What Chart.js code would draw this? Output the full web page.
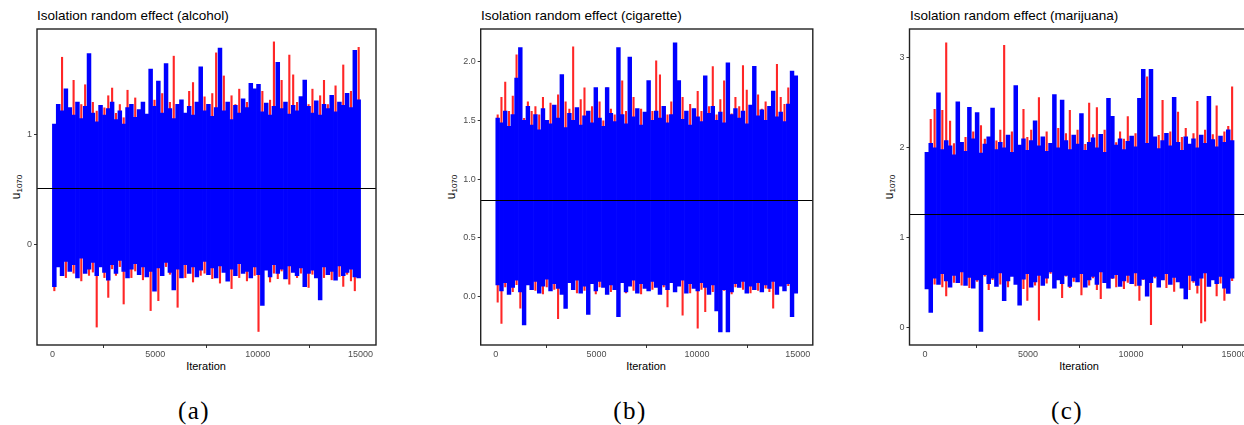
<!DOCTYPE html>
<html>
<head>
<meta charset="utf-8">
<script src="https://cdn.jsdelivr.net/npm/chart.js@4.4.1/dist/chart.umd.min.js"></script>
<style>
  html, body { margin: 0; padding: 0; background: #fff; overflow: hidden; }
  body { width: 1244px; height: 425px; position: relative; font-family: "Liberation Sans", Arial, sans-serif; }
  canvas { position: absolute; top: 20px; }
  .title { position: absolute; top: 9px; font-size: 13.5px; line-height: 1; color: #000; white-space: nowrap; }
  .xlab { position: absolute; top: 361px; font-size: 11px; line-height: 1; transform: translateX(-50%); white-space: nowrap; }
  .ylab { position: absolute; top: 187px; font-size: 12px; line-height: 1; transform: translate(-50%, -50%) rotate(-90deg); white-space: nowrap; }
  .ylab sub { font-size: 8px; vertical-align: -2px; }
  .cap { position: absolute; top: 398px; font-family: "Liberation Serif", serif; font-size: 25px; line-height: 1; letter-spacing: 1.5px; transform: translateX(-50%); }
</style>
</head>
<body>
<div class="title" style="left:37px">Isolation random effect (alcohol)</div>
<div class="title" style="left:481px">Isolation random effect (cigarette)</div>
<div class="title" style="left:910px">Isolation random effect (marijuana)</div>
<div class="ylab" style="left:17px">u<sub>1070</sub></div>
<div class="ylab" style="left:452px">u<sub>1070</sub></div>
<div class="ylab" style="left:890px">u<sub>1070</sub></div>
<canvas id="chartA" width="380" height="340" style="left:0px"></canvas>
<canvas id="chartB" width="380" height="340" style="left:440px"></canvas>
<canvas id="chartC" width="385" height="340" style="left:870px"></canvas>
<div class="xlab" style="left:206px">Iteration</div>
<div class="xlab" style="left:646px">Iteration</div>
<div class="xlab" style="left:1079px">Iteration</div>
<div class="cap" style="left:194px">(a)</div>
<div class="cap" style="left:630px">(b)</div>
<div class="cap" style="left:1067px">(c)</div>
<script>
// 80 bins of 187.5 iterations each, min/max of each chain per bin
const xTicks = [0, 5000, 10000, 15000];
const binWidth = 187.5;

// (a) alcohol
const blueHiA = [
  1.10, 1.28, 1.22, 1.42, 1.25, 1.18, 1.30, 1.15, 1.26, 1.74,
  1.20, 1.12, 1.27, 1.18, 1.24, 1.30, 1.14, 1.22, 1.10, 1.25,
  1.28, 1.16, 1.23, 1.30, 1.19, 1.60, 1.26, 1.49, 1.20, 1.65,
  1.24, 1.15, 1.28, 1.32, 1.20, 1.26, 1.18, 1.30, 1.62, 1.22,
  1.28, 1.17, 1.25, 1.79, 1.22, 1.30, 1.14, 1.27, 1.20, 1.33,
  1.25, 1.47, 1.42, 1.46, 1.21, 1.29, 1.18, 1.26, 1.66, 1.24,
  1.30, 1.19, 1.27, 1.22, 1.35, 1.50, 1.26, 1.20, 1.31, 1.18,
  1.28, 1.24, 1.36, 1.21, 1.30, 1.27, 1.38, 1.25, 1.77, 1.32];
const blueLoA = [
  -0.38, -0.20, -0.28, -0.15, -0.24, -0.18, -0.30, -0.12, -0.26, -0.22,
  -0.16, -0.28, -0.20, -0.25, -0.32, -0.18, -0.26, -0.14, -0.24, -0.30,
  -0.22, -0.17, -0.27, -0.20, -0.29, -0.24, -0.42, -0.21, -0.28, -0.16,
  -0.25, -0.41, -0.22, -0.30, -0.18, -0.26, -0.20, -0.29, -0.23, -0.15,
  -0.27, -0.21, -0.30, -0.19, -0.25, -0.33, -0.22, -0.28, -0.17, -0.26,
  -0.24, -0.30, -0.20, -0.27, -0.55, -0.23, -0.29, -0.18, -0.26, -0.22,
  -0.31, -0.19, -0.25, -0.28, -0.21, -0.38, -0.26, -0.23, -0.30, -0.50,
  -0.20, -0.27, -0.24, -0.32, -0.19, -0.28, -0.25, -0.22, -0.29, -0.30];
const redHiA = [
  1.05, 1.20, 1.71, 1.15, 1.24, 1.50, 1.12, 1.28, 1.46, 1.18,
  1.30, 1.22, 1.10, 1.25, 1.36, 1.43, 1.20, 1.28, 1.16, 1.41,
  1.22, 1.34, 1.18, 1.27, 1.12, 1.25, 1.32, 1.20, 1.38, 1.24,
  1.30, 1.72, 1.22, 1.28, 1.18, 1.40, 1.48, 1.25, 1.20, 1.35,
  1.26, 1.38, 1.75, 1.30, 1.54, 1.22, 1.36, 1.28, 1.42, 1.24,
  1.30, 1.20, 1.35, 1.28, 1.40, 1.25, 1.32, 1.85, 1.30, 1.50,
  1.26, 1.73, 1.55, 1.30, 1.24, 1.38, 1.28, 1.42, 1.22, 1.36,
  1.50, 1.28, 1.34, 1.45, 1.30, 1.64, 1.26, 1.40, 1.52, 1.80];
const redLoA = [
  -0.42, -0.15, -0.24, -0.30, -0.18, -0.26, -0.20, -0.33, -0.22, -0.28,
  -0.25, -0.75, -0.19, -0.30, -0.48, -0.22, -0.28, -0.20, -0.54, -0.26,
  -0.30, -0.24, -0.18, -0.32, -0.26, -0.60, -0.22, -0.51, -0.28, -0.20,
  -0.27, -0.24, -0.57, -0.22, -0.30, -0.25, -0.34, -0.20, -0.28, -0.26,
  -0.22, -0.31, -0.26, -0.35, -0.20, -0.28, -0.40, -0.24, -0.30, -0.22,
  -0.33, -0.25, -0.28, -0.79, -0.30, -0.22, -0.34, -0.26, -0.31, -0.24,
  -0.28, -0.36, -0.22, -0.30, -0.26, -0.33, -0.39, -0.27, -0.24, -0.35,
  -0.30, -0.26, -0.32, -0.24, -0.29, -0.38, -0.27, -0.33, -0.42, -0.28];

// (b) cigarette
const blueHiB = [
  1.52, 1.48, 1.58, 1.45, 1.55, 1.86, 2.12, 1.50, 1.62, 1.46,
  1.55, 1.42, 1.60, 1.50, 1.47, 1.63, 1.52, 1.89, 1.44, 1.56,
  1.50, 1.61, 1.46, 1.54, 1.58, 1.48, 1.78, 1.52, 1.45, 1.78,
  1.56, 1.49, 2.12, 1.55, 1.47, 2.04, 1.53, 1.60, 1.46, 1.57,
  1.84, 1.50, 1.58, 1.52, 1.62, 1.48, 1.55, 2.16, 1.84, 1.51,
  1.58, 1.46, 1.60, 1.53, 1.49, 1.88, 1.56, 1.62, 1.50, 1.57,
  1.48, 1.99, 1.55, 1.60, 1.52, 1.58, 1.47, 1.63, 1.96, 1.54,
  1.59, 1.50, 1.62, 1.75, 1.53, 1.57, 1.49, 1.64, 1.92, 1.88];
const blueLoB = [
  0.10, 0.05, 0.12, 0.02, 0.08, 0.14, 0.04, -0.24, 0.10, 0.06,
  0.13, 0.03, 0.09, 0.15, 0.05, 0.11, 0.07, 0.02, -0.10, 0.12,
  0.06, 0.14, 0.03, 0.09, -0.15, 0.11, 0.05, 0.13, 0.08, 0.02,
  0.10, 0.06, -0.17, 0.12, 0.04, 0.09, 0.14, 0.03, 0.11, 0.07,
  0.05, 0.13, 0.08, 0.02, 0.10, 0.06, 0.12, 0.04, 0.09, 0.14,
  0.03, 0.11, 0.07, 0.05, 0.12, 0.08, 0.02, 0.10, -0.12, -0.30,
  0.06, -0.30, 0.04, 0.11, 0.08, 0.13, 0.03, 0.09, 0.06, 0.12,
  0.04, 0.10, 0.07, 0.13, 0.02, 0.09, 0.05, 0.11, -0.17, 0.03];
const redHiB = [
  1.55, 1.70, 1.83, 1.58, 1.71, 2.06, 1.60, 1.52, 1.66, 1.58,
  1.62, 1.55, 1.70, 1.48, 1.65, 1.58, 1.72, 1.54, 1.66, 1.60,
  2.13, 1.56, 1.68, 1.78, 1.52, 1.62, 1.57, 1.66, 1.50, 1.78,
  1.60, 1.55, 1.64, 1.84, 1.58, 1.62, 1.70, 1.52, 1.60, 1.56,
  1.62, 1.58, 2.01, 1.89, 1.60, 1.55, 1.66, 1.58, 1.62, 1.70,
  1.56, 1.64, 1.60, 1.75, 1.58, 1.66, 1.62, 1.96, 1.55, 1.68,
  1.84, 1.60, 1.56, 1.70, 1.62, 1.97, 1.76, 1.58, 1.64, 1.72,
  1.60, 1.66, 1.58, 1.62, 1.98, 1.70, 1.64, 1.78, 1.60, 1.66];
const redLoB = [
  -0.05, -0.23, 0.08, 0.12, 0.04, 0.10, -0.10, 0.06, 0.13, 0.09,
  0.05, 0.11, 0.02, 0.08, 0.14, 0.06, -0.19, 0.10, 0.04, 0.12,
  0.07, 0.03, 0.11, 0.05, 0.09, 0.14, 0.02, 0.08, 0.12, 0.06,
  0.04, 0.10, 0.07, 0.13, 0.03, 0.09, 0.05, 0.11, 0.02, 0.08,
  0.12, 0.06, 0.10, 0.04, 0.08, -0.09, 0.13, 0.05, 0.11, -0.16,
  0.07, 0.03, 0.10, -0.27, 0.06, -0.13, 0.09, 0.04, 0.12, 0.07,
  0.05, 0.11, 0.02, 0.08, 0.13, 0.06, 0.10, 0.03, 0.09, 0.05,
  0.12, 0.07, 0.04, -0.10, 0.08, 0.11, 0.05, 0.09, 0.03, 0.10];

// (c) marijuana
const blueHiC = [
  1.95, 2.05, 2.00, 2.61, 1.98, 2.08, 2.02, 1.92, 2.51, 2.06,
  1.96, 2.45, 2.10, 2.39, 1.94, 2.04, 2.12, 2.44, 1.98, 2.06,
  2.00, 2.14, 1.95, 2.69, 2.03, 2.10, 1.97, 2.08, 2.30, 2.02,
  2.12, 1.96, 2.05, 2.59, 2.00, 2.53, 2.08, 1.98, 2.14, 2.04,
  2.38, 1.97, 2.06, 2.11, 2.00, 2.15, 1.95, 2.55, 2.35, 2.03,
  2.10, 1.98, 2.07, 2.13, 2.01, 2.55, 2.87, 2.05, 2.87, 2.12,
  1.99, 2.08, 2.16, 2.02, 2.56, 2.06, 1.97, 2.12, 2.04, 2.10,
  2.00, 2.14, 2.05, 2.57, 2.09, 2.01, 2.13, 2.06, 2.20, 2.08];
const blueLoC = [
  0.43, 0.17, 0.55, 0.48, 0.60, 0.52, 0.45, 0.58, 0.50, 0.62,
  0.47, 0.56, 0.44, 0.53, -0.04, 0.59, 0.49, 0.55, 0.46, 0.61,
  0.30, 0.52, 0.57, 0.48, 0.25, 0.54, 0.60, 0.45, 0.51, 0.58,
  0.47, 0.55, 0.62, 0.44, 0.53, 0.49, 0.58, 0.46, 0.56, 0.51,
  0.60, 0.45, 0.53, 0.57, 0.48, 0.62, 0.50, 0.44, 0.55, 0.59,
  0.46, 0.52, 0.58, 0.49, 0.61, 0.47, 0.54, 0.35, 0.50, 0.57,
  0.45, 0.53, 0.60, 0.48, 0.56, 0.51, 0.44, 0.32, 0.58, 0.52,
  0.47, 0.55, 0.61, 0.46, 0.53, 0.49, 0.57, 0.44, 0.38, 0.55];
const redHiC = [
  1.90, 2.32, 2.43, 2.10, 2.42, 3.17, 2.30, 2.05, 2.15, 2.00,
  2.12, 2.05, 2.18, 2.02, 2.25, 2.10, 2.00, 2.15, 2.08, 2.20,
  3.14, 2.06, 2.18, 2.10, 2.02, 2.43, 2.12, 2.20, 2.05, 2.56,
  2.10, 2.18, 2.04, 2.14, 2.22, 2.08, 2.16, 2.42, 2.06, 2.20,
  2.12, 2.04, 2.50, 2.15, 2.45, 2.08, 2.20, 2.10, 2.14, 2.06,
  2.18, 2.10, 2.35, 2.05, 2.16, 2.12, 2.08, 2.79, 2.20, 2.10,
  2.14, 2.53, 2.06, 2.18, 2.10, 2.40, 2.12, 2.22, 2.04, 2.16,
  2.52, 2.10, 2.20, 2.08, 2.15, 2.47, 2.12, 2.18, 2.24, 2.68];
const redLoC = [
  0.60, 0.52, 0.48, 0.56, 0.45, 0.35, 0.58, 0.50, 0.62, 0.47,
  0.55, 0.44, 0.59, 0.51, 0.46, 0.57, 0.42, 0.53, 0.60, 0.48,
  0.54, 0.45, 0.58, 0.50, 0.56, 0.43, 0.30, 0.52, 0.47, 0.08,
  0.55, 0.49, 0.60, 0.46, 0.53, 0.33, 0.57, 0.44, 0.51, 0.58,
  0.36, 0.52, 0.47, 0.55, 0.42, 0.32, 0.59, 0.48, 0.54, 0.45,
  0.57, 0.43, 0.50, 0.56, 0.46, 0.30, 0.53, 0.49, 0.03, 0.55,
  0.47, 0.58, 0.44, 0.52, 0.40, 0.56, 0.48, 0.54, 0.42, 0.50,
  0.38, 0.05, 0.07, 0.46, 0.53, 0.35, 0.49, 0.30, 0.44, 0.52];

// posterior means (horizontal lines)
const means = [0.52, 0.82, 1.26];
const yTicksA = [0, 1];
const yTicksB = [0, 0.5, 1, 1.5, 2];
const yTicksC = [0, 1, 2, 3];

const binMid = blueHiA.map((_, i) => binWidth * i + binWidth / 2);
const toBars = (lo, hi) => lo.map((v, i) => ({ x: binMid[i], y: [v, hi[i]] }));

const framePlugin = {
  id: 'frame',
  afterDatasetsDraw(chart, args, opts) {
    const { ctx, chartArea: a, scales } = chart;
    const y = Math.round(scales.y.getPixelForValue(opts.mean)) + 0.5;
    ctx.save();
    ctx.strokeStyle = '#000';
    ctx.lineWidth = 1;
    ctx.beginPath();
    ctx.moveTo(a.left, y);
    ctx.lineTo(a.right, y);
    ctx.stroke();
    ctx.strokeStyle = '#222';
    ctx.lineWidth = 1.4;
    ctx.strokeRect(a.left, a.top, a.right - a.left, a.bottom - a.top);
    ctx.restore();
  }
};

function makePanel(id, blueLo, blueHi, redLo, redHi, mean, yMin, yMax, yTicks, dec, yWidth, padRight) {
  new Chart(document.getElementById(id), {
    type: 'bar',
    data: {
      datasets: [
        { data: toBars(blueLo, blueHi), backgroundColor: '#0000ff', grouped: false,
          barPercentage: 1, categoryPercentage: 1, borderWidth: 0 },
        { data: toBars(redLo, redHi), backgroundColor: 'rgba(255,0,0,0.85)', grouped: false,
          barPercentage: 0.55, categoryPercentage: 1, borderWidth: 0 }
      ]
    },
    options: {
      responsive: false,
      animation: false,
      devicePixelRatio: 1,
      layout: { padding: { top: 9, right: padRight, left: 0, bottom: 0 } },
      plugins: { legend: { display: false }, tooltip: { enabled: false }, frame: { mean: mean } },
      scales: {
        x: {
          type: 'linear', min: -750, max: 15750, offset: false,
          afterBuildTicks: s => { s.ticks = xTicks.map(v => ({ value: v })); },
          afterFit: s => { s.height = 15; },
          grid: { drawOnChartArea: false, drawTicks: true, tickLength: 3, color: '#333' },
          border: { display: false },
          ticks: { color: '#4d4d4d', font: { size: 9, family: 'Liberation Sans' }, padding: 1,
                   maxRotation: 0, autoSkip: false, callback: v => String(v) }
        },
        y: {
          min: yMin, max: yMax,
          afterBuildTicks: s => { s.ticks = yTicks.map(v => ({ value: v })); },
          afterFit: s => { s.width = yWidth; },
          grid: { drawOnChartArea: false, drawTicks: true, tickLength: 3, color: '#333' },
          border: { display: false },
          ticks: { color: '#4d4d4d', font: { size: 9, family: 'Liberation Sans' }, padding: 2,
                   autoSkip: false, callback: v => v.toFixed(dec) }
        }
      }
    },
    plugins: [framePlugin]
  });
}

makePanel('chartA', blueLoA, blueHiA, redLoA, redHiA, means[0], -0.91, 1.964, yTicksA, 0, 37, 4);
makePanel('chartB', blueLoB, blueHiB, redLoB, redHiB, means[1], -0.411, 2.278, yTicksB, 1, 40.7, 7.2);
makePanel('chartC', blueLoC, blueHiC, redLoC, redHiC, means[2], -0.192, 3.319, yTicksC, 0, 39.5, 5.5);
</script>
</body>
</html>
